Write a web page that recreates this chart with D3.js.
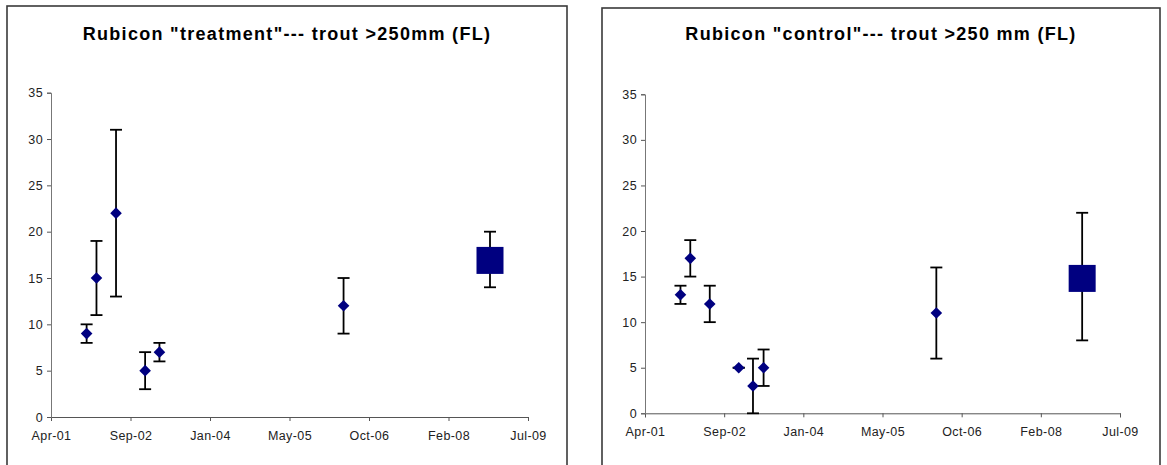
<!DOCTYPE html>
<html>
<head>
<meta charset="utf-8">
<script src="https://cdn.jsdelivr.net/npm/d3@7"></script>
<style>
  body { margin: 0; background: #fff; }
  text { font-family: Arial, "Liberation Sans", sans-serif; }
  .tick text { fill: #222; font-size: 12.5px; letter-spacing: 0.4px; }
</style>
</head>
<body>
<svg id="chart" width="1167" height="465"></svg>
<script>
// Sampling dates (shared by both reaches)
const treatDates = ["2001-11-29", "2002-01-30", "2002-06-02", "2002-12-02", "2003-03-02", "2006-05-03", "2008-11-09"];
const treatMean  = [9, 15, 22, 5, 7, 12, 16.9];
const treatLow   = [8, 11, 13, 3, 6, 9, 14];
const treatHigh  = [10, 19, 31, 7, 8, 15, 20];
const treatShape = ["diamond", "diamond", "diamond", "diamond", "diamond", "diamond", "square"];

const controlDates = ["2001-11-29", "2002-01-30", "2002-06-02", "2002-12-02", "2003-03-02", "2003-05-08", "2006-05-03", "2008-11-09"];
const controlMean  = [13, 17, 12, 5, 3, 5, 11, 14.8];
const controlLow   = [12, 15, 10, 5, 0, 3, 6, 8];
const controlHigh  = [14, 19, 14, 5, 6, 7, 16, 22];
const controlShape = ["diamond", "diamond", "diamond", "diamond", "diamond", "diamond", "diamond", "square"];

// Excel-style date axis: serial 37000..40000, major unit 500 days
const axisStart = "2001-04-19";
const axisStepDays = 500;
const axisSteps = 6;
const yTicks = [0, 5, 10, 15, 20, 25, 30, 35];

const parse = d3.utcParse("%Y-%m-%d");
const fmt = d3.utcFormat("%b-%y");
const svg = d3.select("#chart");

function drawPanel(opt) {
    const g = svg.append("g");

    // outer frame
    g.append("rect")
        .attr("x", opt.frame[0]).attr("y", opt.frame[1])
        .attr("width", opt.frame[2]).attr("height", opt.frame[3])
        .attr("fill", "none").attr("stroke", "#3a3a3a").attr("stroke-width", 1.6);

    g.append("text")
        .attr("x", opt.frame[0] + opt.frame[2] / 2)
        .attr("y", 40)
        .attr("text-anchor", "middle")
        .attr("font-weight", "bold")
        .attr("font-size", "18px")
        .attr("letter-spacing", "1.3px")
        .attr("fill", "#000")
        .text(opt.title);

    const start = parse(axisStart);
    const end = d3.utcDay.offset(start, axisStepDays * axisSteps);
    const x = d3.scaleUtc().domain([start, end]).range([opt.x0, opt.x1]);
    const y = d3.scaleLinear().domain([0, 35]).range([opt.y0, opt.y1]);

    const tickDates = d3.range(axisSteps + 1).map(i => d3.utcDay.offset(start, axisStepDays * i));

    const xAxis = g.append("g")
        .attr("transform", `translate(0,${opt.y0})`)
        .call(d3.axisBottom(x).tickValues(tickDates).tickFormat(fmt).tickSize(4).tickPadding(10));
    xAxis.select(".domain").attr("stroke", "#555");
    xAxis.selectAll(".tick line").attr("stroke", "#555");

    const yAxis = g.append("g")
        .attr("transform", `translate(${opt.x0},0)`)
        .call(d3.axisLeft(y).tickValues(yTicks).tickSize(4).tickPadding(4));
    yAxis.select(".domain").attr("stroke", "#777");
    yAxis.selectAll(".tick line").attr("stroke", "#555");

    const rows = opt.dates.map((d, i) => ({
        date: parse(d), mean: opt.mean[i], low: opt.low[i], high: opt.high[i], shape: opt.shape[i]
    }));

    // error bars
    const capHalf = 6;
    const eb = g.append("g").attr("stroke", "#000").attr("stroke-width", 1.8);
    rows.forEach(r => {
        const cx = x(r.date);
        eb.append("line").attr("x1", cx).attr("x2", cx).attr("y1", y(r.low)).attr("y2", y(r.high));
        eb.append("line").attr("x1", cx - capHalf).attr("x2", cx + capHalf).attr("y1", y(r.high)).attr("y2", y(r.high));
        eb.append("line").attr("x1", cx - capHalf).attr("x2", cx + capHalf).attr("y1", y(r.low)).attr("y2", y(r.low));
    });

    // markers
    g.selectAll(".diamond")
        .data(rows.filter(r => r.shape === "diamond"))
        .enter()
        .append("path")
        .attr("d", d => {
            const cx = x(d.date), cy = y(d.mean), s = 5.8;
            return `M${cx},${cy - s}L${cx + s},${cy}L${cx},${cy + s}L${cx - s},${cy}Z`;
        })
        .attr("fill", "#000080");

    g.selectAll(".square")
        .data(rows.filter(r => r.shape === "square"))
        .enter()
        .append("rect")
        .attr("x", d => x(d.date) - 13.5)
        .attr("y", d => y(d.mean) - 13.5)
        .attr("width", 27)
        .attr("height", 27)
        .attr("fill", "#000080");
}

drawPanel({
    title: 'Rubicon "treatment"--- trout >250mm (FL)',
    frame: [7, 6, 560, 470],
    x0: 51, x1: 528, y0: 417, y1: 92.7,
    dates: treatDates, mean: treatMean, low: treatLow, high: treatHigh, shape: treatShape
});

drawPanel({
    title: 'Rubicon "control"--- trout >250 mm (FL)',
    frame: [602, 8, 558, 470],
    x0: 645, x1: 1120, y0: 413.3, y1: 94.3,
    dates: controlDates, mean: controlMean, low: controlLow, high: controlHigh, shape: controlShape
});
</script>
</body>
</html>
